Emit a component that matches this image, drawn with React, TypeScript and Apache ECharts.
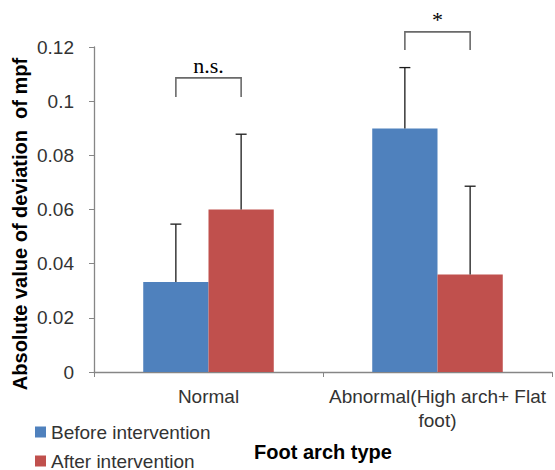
import React, { useEffect, useRef } from "react";
import * as echarts from "echarts";

const categories = ["Normal", "Abnormal(High arch+ Flat foot)"];
const seriesNames = ["Before intervention", "After intervention"];
const beforeValues = [0.0332, 0.0899];
const afterValues = [0.06, 0.036];
const beforeErrors = [0.0214, 0.0225];
const afterErrors = [0.0278, 0.0326];
const sigLabels = ["n.s.", "*"];
const bracketTop = [0.1086, 0.1256];
const bracketBottom = [0.1015, 0.1189];
const yTicks = [0, 0.02, 0.04, 0.06, 0.08, 0.1, 0.12];

const BLUE = "#4F81BD";
const RED = "#C0504D";
const GAP = 0.43;
const FONT = "Liberation Sans, Arial, sans-serif";

function errorSeries(vals: number[], errs: number[], dir: number) {
  return {
    type: "custom",
    z: 5,
    silent: true,
    data: vals.map((v, i) => [i, v, v + errs[i]]),
    encode: { x: 0, y: [1, 2] },
    renderItem: (params: any, api: any) => {
      const i = api.value(0);
      const base = api.coord([i, api.value(1)]);
      const top = api.coord([i, api.value(2)]);
      const catW = api.size([1, 0])[0];
      const barW = (catW * (1 - GAP)) / 2;
      const x = base[0] + (dir * barW) / 2;
      const st = { stroke: "#1a1a1a", lineWidth: 1.3 };
      return {
        type: "group",
        children: [
          { type: "line", shape: { x1: x, y1: base[1], x2: x, y2: top[1] }, style: st },
          { type: "line", shape: { x1: x - 5.5, y1: top[1], x2: x + 5.5, y2: top[1] }, style: st },
        ],
      };
    },
  };
}

function legendFor(name: string, top: number) {
  return {
    data: [name],
    orient: "vertical",
    left: 35,
    top,
    padding: 0,
    itemWidth: 11,
    itemHeight: 11,
    icon: "rect",
    textStyle: { fontSize: 19, color: "#333", lineHeight: 20, fontFamily: FONT },
  };
}

export default function App() {
  const ref = useRef<HTMLDivElement>(null);
  useEffect(() => {
    document.body.style.margin = "0";
    if (!ref.current) return;
    const chart = echarts.init(ref.current, undefined, { renderer: "svg" });
    chart.setOption({
      animation: false,
      textStyle: { fontFamily: FONT },
      grid: { left: 94, right: 3, top: 47, bottom: 98, containLabel: false, outerBoundsMode: "none" },
      legend: [legendFor(seriesNames[0], 422), legendFor(seriesNames[1], 451)],
      xAxis: {
        type: "category",
        data: categories,
        axisLine: { lineStyle: { color: "#868686", width: 1.3 } },
        axisTick: { show: true, length: 5, lineStyle: { color: "#868686" } },
        axisLabel: {
          fontSize: 19,
          color: "#333",
          margin: 12,
          lineHeight: 24,
          interval: 0,
          formatter: (v: string) => v.replace(" foot)", "\nfoot)"),
        },
      },
      yAxis: {
        type: "value",
        min: yTicks[0],
        max: yTicks[yTicks.length - 1],
        interval: 0.02,
        splitLine: { show: false },
        axisLine: { show: true, lineStyle: { color: "#868686", width: 1.3 } },
        axisTick: { show: true, length: 5, lineStyle: { color: "#868686" } },
        axisLabel: { fontSize: 19, color: "#333", margin: 20 },
      },
      graphic: [
        {
          type: "text",
          x: 20,
          y: 224,
          rotation: Math.PI / 2,
          style: {
            text: "Absolute value of deviation  of mpf",
            font: "bold 20px Liberation Sans, Arial, sans-serif",
            fill: "#000",
            align: "center",
            verticalAlign: "middle",
          },
        },
        {
          type: "text",
          x: 323,
          y: 452,
          style: {
            text: "Foot arch type",
            font: "bold 20px Liberation Sans, Arial, sans-serif",
            fill: "#000",
            align: "center",
            verticalAlign: "middle",
          },
        },
      ],
      series: [
        {
          name: seriesNames[0],
          type: "bar",
          data: beforeValues,
          barGap: "0%",
          barCategoryGap: GAP * 100 + "%",
          itemStyle: { color: BLUE },
        },
        {
          name: seriesNames[1],
          type: "bar",
          data: afterValues,
          itemStyle: { color: RED },
        },
        errorSeries(beforeValues, beforeErrors, -1),
        errorSeries(afterValues, afterErrors, 1),
        {
          type: "custom",
          z: 6,
          silent: true,
          clip: false,
          data: sigLabels.map((l, i) => [i, bracketTop[i], bracketBottom[i], l]),
          encode: { x: 0, y: [1, 2] },
          renderItem: (params: any, api: any) => {
            const i = api.value(0);
            const top = api.coord([i, api.value(1)]);
            const bot = api.coord([i, api.value(2)]);
            const catW = api.size([1, 0])[0];
            const barW = (catW * (1 - GAP)) / 2;
            const l = top[0] - barW / 2;
            const r = top[0] + barW / 2;
            return {
              type: "group",
              children: [
                {
                  type: "polyline",
                  shape: { points: [[l, bot[1]], [l, top[1]], [r, top[1]], [r, bot[1]]] },
                  style: { stroke: "#6a6a6a", lineWidth: 1.6, fill: "none" },
                },
                {
                  type: "text",
                  x: top[0],
                  y: top[1] - 12,
                  style: {
                    text: sigLabels[i],
                    font: "22px Liberation Serif, Times New Roman, serif",
                    fill: "#000",
                    align: "center",
                    verticalAlign: "middle",
                  },
                },
              ],
            };
          },
        },
      ],
    });
    return () => chart.dispose();
  }, []);
  return <div ref={ref} style={{ width: 555, height: 470 }} />;
}
